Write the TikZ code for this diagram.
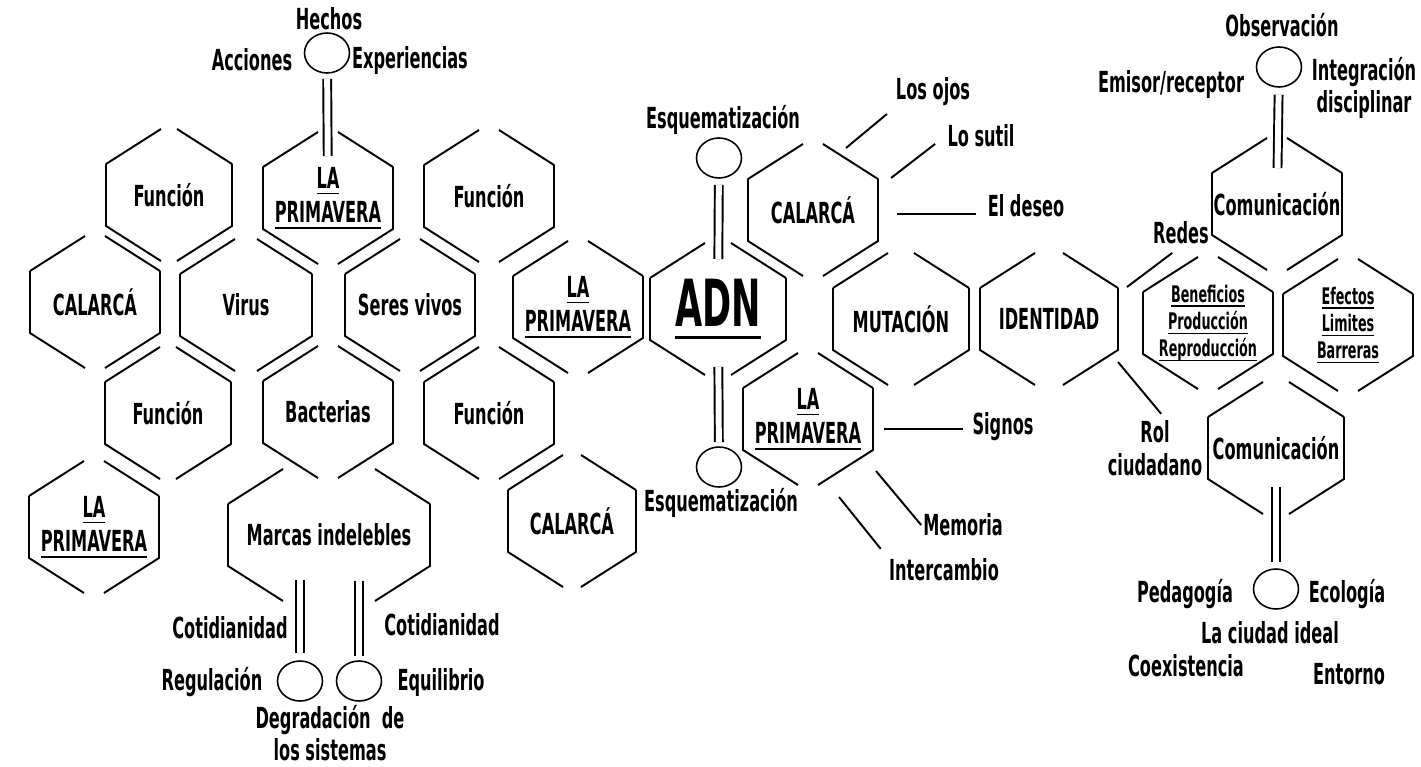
\documentclass[tikz,border=0pt]{standalone}
\usepackage{fontspec}
\usepackage{tikz}
\usetikzlibrary{shapes.geometric}
\newfontfamily\mapfont{DejaVu Sans Condensed Bold}[FakeStretch=0.62]
\newfontfamily\bigfont{DejaVu Sans Condensed Bold}[FakeStretch=0.6]
\newcommand{\lined}[2][1.1pt]{\leavevmode\vtop{\hbox{\raisebox{0pt}[\height][0pt]{#2}}\kern.14em\hrule height #1}}

\begin{document}
\begin{tikzpicture}[x=0.02cm, y=-0.02cm,
  cellline/.style={line width=1.1pt},
  word/.style={font=\mapfont\fontsize{16.5}{18.5}\selectfont, align=center, inner sep=1pt},
  fine/.style={font=\mapfont\fontsize{13}{15.5}\selectfont, align=center, inner sep=1pt},
  bubble/.style={draw, ellipse, line width=0.9pt, minimum width=0.9cm, minimum height=0.8cm, inner sep=0pt},
  twin/.style={double, double distance=3.4pt, line width=1.1pt},
  stem/.style={line width=1.1pt}]
 \useasboundingbox (0,0) rectangle (1421,767);

 % honeycomb, left block
 \node[word] (fun1) at (169,195) {Función};
 \node[word] (lp1) at (328,198) {\lined{LA}\\[1pt]\lined{PRIMAVERA}};
 \node[word] (fun2) at (489,196) {Función};
 \node[word] (cal1) at (95,302) {CALARCÁ};
 \node[word] (vir) at (246,305) {Virus};
 \node[word] (ser) at (410,305) {Seres vivos};
 \node[word] (lp2) at (578,307) {\lined{LA}\\[1pt]\lined{PRIMAVERA}};
 \node[font=\bigfont\fontsize{37}{40}\selectfont, inner sep=1pt] (adn) at (718,309) {\lined[1.8pt]{ADN}};
 \node[word] (fun3) at (168,413) {Función};
 \node[word] (bac) at (328,412) {Bacterias};
 \node[word] (fun4) at (489,413) {Función};
 \node[word] (lp3) at (94,527) {\lined{LA}\\[1pt]\lined{PRIMAVERA}};
 \node[word] (mar) at (329,535) {Marcas indelebles};
 \node[word] (cal2) at (572,521) {CALARCÁ};

 % honeycomb, right block
 \node[word] (cal3) at (813,210) {CALARCÁ};
 \node[word] (mut) at (901,319) {MUTACIÓN};
 \node[word] (ide) at (1049,319) {IDENTIDAD};
 \node[word] (lp4) at (808,419) {\lined{LA}\\[1pt]\lined{PRIMAVERA}};
 \node[word] (com1) at (1277,204) {Comunicación};
 \node[fine] (ben) at (1208,323) {\lined[0.8pt]{Beneficios}\\\lined[0.8pt]{Producción}\\\lined[0.8pt]{Reproducción}};
 \node[fine] (efe) at (1348,325) {\lined[0.8pt]{Efectos}\\\lined[0.8pt]{Limites}\\\lined[0.8pt]{Barreras}};
 \node[word] (com2) at (1276,448) {Comunicación};

 \foreach \cid/\hw in {fun1/63, lp1/65, fun2/65, cal1/65, vir/66, ser/65, lp2/65, adn/68,
   fun3/63, bac/65, fun4/65, lp3/65, mar/101, cal2/64, cal3/65, mut/68, ide/69, lp4/65,
   com1/65, ben/65, efe/65, com2/68}
  \draw[cellline] ([shift={(-\hw,-31)}]\cid.center) -- ++(55,-35)
   ([shift={(\hw,-31)}]\cid.center) -- ++(-55,-35)
   ([shift={(-\hw,-31)}]\cid.center) -- ++(0,62) -- ++(55,35)
   ([shift={(\hw,-31)}]\cid.center) -- ++(0,62) -- ++(-55,35);

 % bubbles
 \node[bubble] (hec) at (327,53) {};
 \node[bubble] (esqt) at (719,158) {};
 \node[bubble] (esqb) at (719,467) {};
 \node[bubble] (reg) at (300,681) {};
 \node[bubble] (equ) at (359,681) {};
 \node[bubble] (comt) at (1279,67) {};
 \node[bubble] (comb) at (1276,589) {};

 % labels
 \node[word] (hechos) at (329,19) {Hechos};
 \node[word] (acciones) at (252,60) {Acciones};
 \node[word] (experiencias) at (410,61) {Experiencias};
 \node[word] (esq1) at (723,120) {Esquematización};
 \node[word] (esq2) at (721,503) {Esquematización};
 \node[word] (losojos) at (933,92) {Los ojos};
 \node[word] (losutil) at (981,136) {Lo sutil};
 \node[word] (eldeseo) at (1026,206) {El deseo};
 \node[word] (signos) at (1003,427) {Signos};
 \node[word] (memoria) at (963,525) {Memoria};
 \node[word] (intercambio) at (944,570) {Intercambio};
 \node[word] (observacion) at (1282,25) {Observación};
 \node[word] (emisor) at (1171,85) {Emisor/receptor};
 \node[word] (integracion) at (1364,88) {Integración\\disciplinar};
 \node[word] (redes) at (1181,233) {Redes};
 \node[word] (rol) at (1155,448) {Rol\\ciudadano};
 \node[word] (pedagogia) at (1185,594) {Pedagogía};
 \node[word] (ecologia) at (1347,594) {Ecología};
 \node[word] (ciudad) at (1270,633) {La ciudad ideal};
 \node[word] (coexistencia) at (1186,666) {Coexistencia};
 \node[word] (entorno) at (1349,674) {Entorno};
 \node[word] (coti1) at (230,628) {Cotidianidad};
 \node[word] (coti2) at (442,625) {Cotidianidad};
 \node[word] (regulacion) at (212,682) {Regulación};
 \node[word] (equilibrio) at (441,682) {Equilibrio};
 \node[word] (degradacion) at (330,733) {Degradación\ \ de\\los sistemas};

 % double stems
 \draw[twin, shorten <=0.1cm, shorten >=0.84cm] (hec) -- (lp1.center);
 \draw[twin, shorten <=0.12cm, shorten >=1cm] (esqt) -- (adn.center);
 \draw[twin, shorten <=1.16cm, shorten >=0.08cm] (adn.center) -- (esqb);
 \draw[twin, shorten <=0.14cm, shorten >=0.9cm] (reg) -- (reg |- mar.center);
 \draw[twin, shorten <=0.08cm, shorten >=0.92cm] (equ) -- (equ |- mar.center);
 \draw[twin, shorten <=0.14cm, shorten >=0.72cm] (comt) -- (com1.center);
 \draw[twin, shorten <=0.78cm, shorten >=0.12cm] (com2.center) -- (comb);

 % single stems
 \coordinate (s1) at (846,148);
 \coordinate (s2) at (891,178);
 \coordinate (s3) at (897,214);
 \coordinate (s4) at (884,429);
 \coordinate (s5) at (876,471);
 \coordinate (s6) at (839,497);
 \coordinate (s7) at (1127,287);
 \coordinate (s8) at (1118,362);
 \draw[stem, shorten >=0.18cm] (s1) -- (losojos.south west);
 \draw[stem, shorten >=0.26cm] (s2) -- (losutil.west);
 \draw[stem, shorten >=0.2cm] (s3) -- (s3 -| eldeseo.west);
 \draw[stem, shorten >=0.14cm] (s4) -- (s4 -| signos.west);
 \draw[stem] (s5) -- (memoria.west);
 \draw[stem, shorten >=0.2cm] (s6) -- (intercambio.north west);
 \draw[stem, shorten >=0.22cm] (s7) -- (redes.south);
 \draw[stem, shorten >=0.12cm] (s8) -- ([xshift=0.2cm]rol.north);
\end{tikzpicture}
\end{document}
